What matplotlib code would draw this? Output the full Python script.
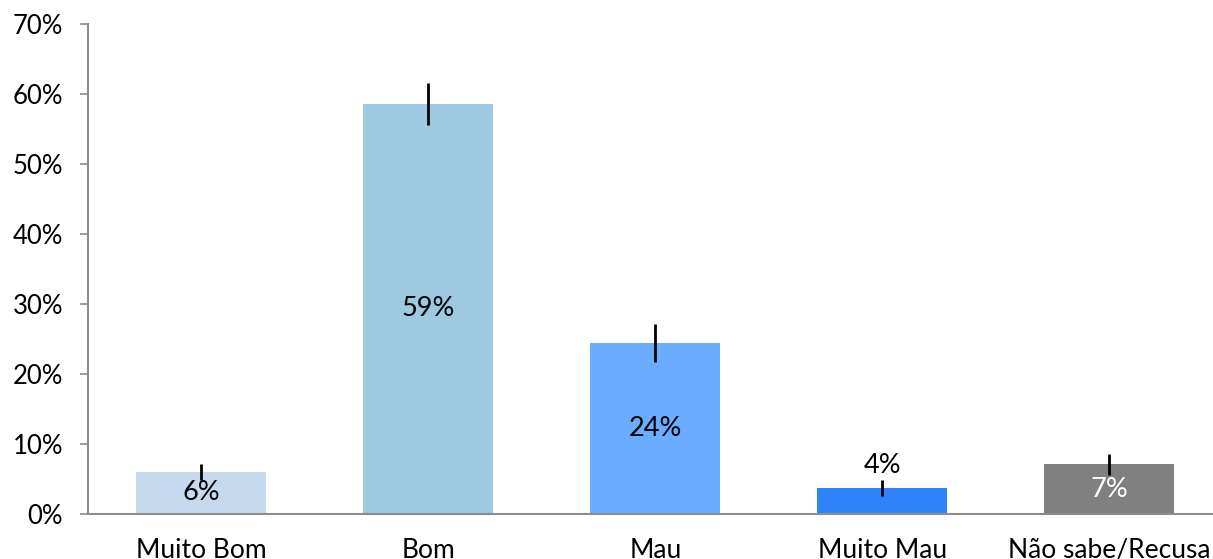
import matplotlib
matplotlib.use("Agg")
import matplotlib.pyplot as plt
from matplotlib.ticker import PercentFormatter

categories = ["Muito Bom", "Bom", "Mau", "Muito Mau", "Não sabe/Recusa"]
values = [6.0, 58.6, 24.4, 3.7, 7.1]
errors = [1.15, 3.0, 2.7, 1.15, 1.5]
labels = ["6%", "59%", "24%", "4%", "7%"]
colors = ["#C5DAEF", "#9DC9E1", "#6AADFE", "#3084FB", "#808080"]
label_colors = ["black", "black", "black", "black", "white"]
label_y = [None, None, None, 6.9, None]  # None -> middle of bar

plt.rcParams['font.family'] = ['Lato', 'DejaVu Sans']

fig = plt.figure(figsize=(12.13, 5.59), dpi=100)
ax = fig.add_axes([88/1213, 45/559, 1 - 88/1213, 490/559])

x = list(range(len(categories)))
ax.bar(x, values, width=0.573, color=colors, zorder=2)
ax.errorbar(x, values, yerr=errors, fmt='none', ecolor='black', elinewidth=2, capsize=0, zorder=3)

for i, (v, lab) in enumerate(zip(values, labels)):
    y = label_y[i] if label_y[i] is not None else v / 2
    ax.text(i, y, lab, ha='center', va='center', fontsize=19.5, color=label_colors[i], zorder=4)

ax.set_xlim(-0.5, 4.458)
ax.set_ylim(0, 70)
ax.set_yticks(range(0, 71, 10))
ax.yaxis.set_major_formatter(PercentFormatter(decimals=0))
ax.set_xticks(x)
ax.set_xticklabels(categories)

for s in ['top', 'right']:
    ax.spines[s].set_visible(False)
for s in ['left', 'bottom']:
    ax.spines[s].set_color('#8C8C8C')
    ax.spines[s].set_linewidth(1.5)

ax.tick_params(axis='y', length=6, width=1.2, color='#8C8C8C', pad=12, labelsize=18.5, labelcolor='black')
ax.tick_params(axis='x', length=0, pad=17, labelsize=19, labelcolor='black')

fig.savefig("out.png", dpi=100)
